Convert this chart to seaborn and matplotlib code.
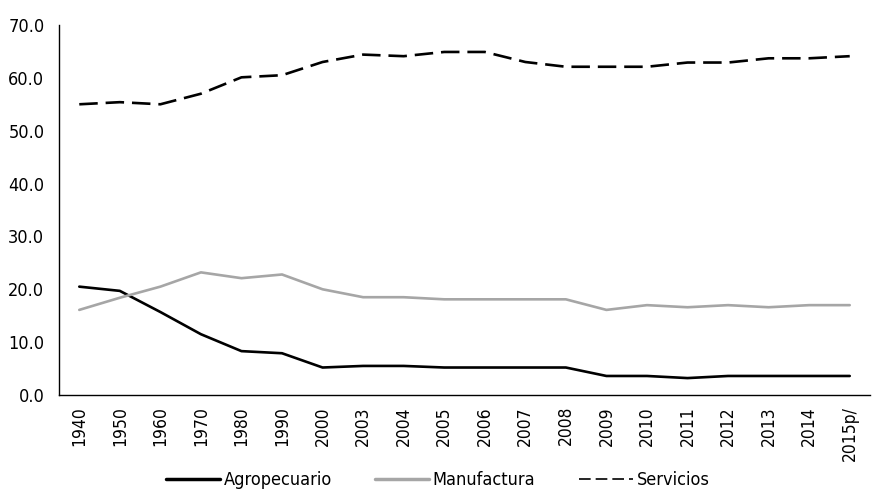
import numpy as np
import pandas as pd
import matplotlib
matplotlib.use("Agg")
import matplotlib.pyplot as plt
import seaborn as sns

# Datos (porcentaje del PIB por sector)
anios = ["1940", "1950", "1960", "1970", "1980", "1990", "2000", "2003", "2004", "2005",
         "2006", "2007", "2008", "2009", "2010", "2011", "2012", "2013", "2014", "2015p/"]
agropecuario = [20.5, 19.7, 15.7, 11.5, 8.3, 7.9, 5.2, 5.5, 5.5, 5.2,
                5.2, 5.2, 5.2, 3.6, 3.6, 3.2, 3.6, 3.6, 3.6, 3.6]
manufactura = [16.1, 18.4, 20.5, 23.2, 22.1, 22.8, 20.0, 18.5, 18.5, 18.1,
               18.1, 18.1, 18.1, 16.1, 17.0, 16.6, 17.0, 16.6, 17.0, 17.0]
servicios = [55.0, 55.4, 55.0, 57.0, 60.1, 60.5, 63.0, 64.4, 64.1, 64.9,
             64.9, 63.0, 62.1, 62.1, 62.1, 62.9, 62.9, 63.7, 63.7, 64.1]

sns.set_style("white")
plt.rcParams['font.family'] = ['DejaVu Sans']
plt.rcParams['font.stretch'] = 'condensed'
plt.rcParams['text.color'] = 'black'
plt.rcParams['xtick.color'] = 'black'
plt.rcParams['ytick.color'] = 'black'

x = np.arange(len(anios))
df = pd.DataFrame({"x": np.tile(x, 3),
                   "valor": agropecuario + manufactura + servicios,
                   "serie": ["Agropecuario"] * 20 + ["Manufactura"] * 20 + ["Servicios"] * 20})

fig = plt.figure(figsize=(8.75, 4.99), dpi=100)
ax = fig.add_axes([59 / 875, 1 - 395 / 499, 811 / 875, 370 / 499])

sns.lineplot(data=df, x="x", y="valor", hue="serie", style="serie",
             palette={"Agropecuario": "black", "Manufactura": "#a6a6a6", "Servicios": "black"},
             dashes={"Agropecuario": "", "Manufactura": "", "Servicios": (7, 3)},
             linewidth=1.9, ax=ax, legend=False)

ax.set_xlim(-0.5, len(anios) - 0.5)
ax.set_ylim(0, 70)
ax.set_yticks(np.arange(0, 71, 10))
ax.set_yticklabels([f"{v:.1f}" for v in np.arange(0, 71, 10)], fontsize=13)
ax.set_xticks(np.arange(-0.5, len(anios), 1))
ax.set_xticklabels([])
ax.set_xticks(x, minor=True)
ax.set_xticklabels(anios, minor=True, rotation=90, fontsize=12.5)
ax.tick_params(axis="x", which="major", length=5, width=1, color="black", direction="out")
ax.tick_params(axis="x", which="minor", length=0, pad=8)
ax.tick_params(axis="y", length=4.5, width=1, color="black", direction="out", pad=6)
ax.set_xlabel("")
ax.set_ylabel("")
for side in ["top", "right"]:
    ax.spines[side].set_visible(False)
for side in ["left", "bottom"]:
    ax.spines[side].set_color("black")
    ax.spines[side].set_linewidth(1)

handles = [plt.Line2D([], [], color="black", lw=2.5),
           plt.Line2D([], [], color="#a6a6a6", lw=2.5),
           plt.Line2D([], [], color="black", lw=1.2, dashes=(7, 3))]
fig.legend(handles, ["Agropecuario", "Manufactura", "Servicios"], loc="center",
           bbox_to_anchor=(0.5, 1 - 480 / 499), ncol=3, frameon=False, fontsize=13,
           handlelength=3, handletextpad=0.2, columnspacing=2.4)

fig.savefig("out.png", dpi=100)
